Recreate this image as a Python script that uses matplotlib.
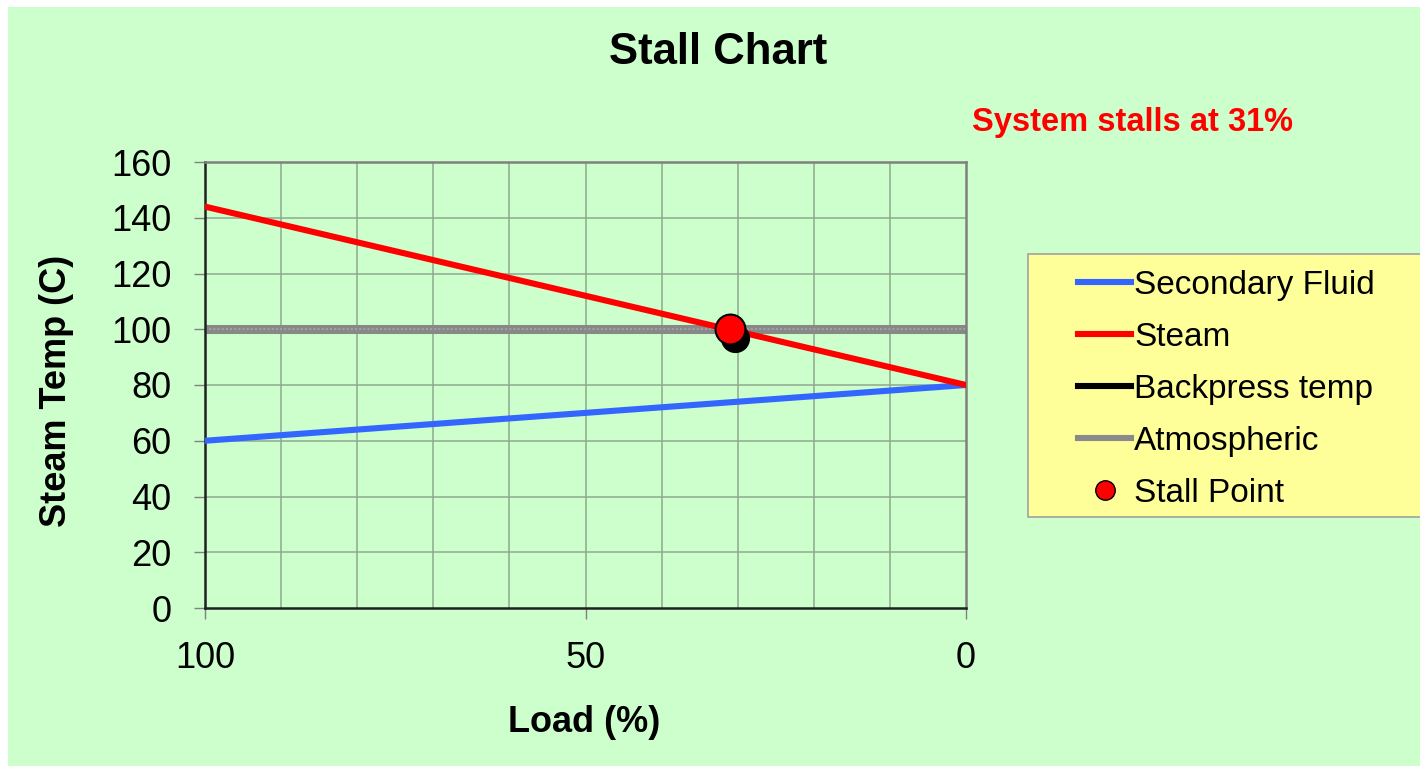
import matplotlib
matplotlib.use("Agg")
import matplotlib.pyplot as plt
from matplotlib.lines import Line2D
from matplotlib.patches import Rectangle

plt.rcParams['font.family'] = ['Liberation Sans', 'DejaVu Sans']

# Data
load = [100, 0]
secondary_fluid = [60, 80]
steam = [144, 80]
atmospheric = [100, 100]
backpress_x = [30.4]
backpress_y = [97.0]
stall_x = [31]
stall_y = [100]
x_ticks = [100, 50, 0]
y_ticks = [0, 20, 40, 60, 80, 100, 120, 140, 160]

GREEN = '#CCFFCC'
W, H = 1420, 766
fig = plt.figure(figsize=(14.2, 7.66), dpi=100)
fig.patch.set_facecolor('white')
fig.patches.append(Rectangle((8/W, 0), 1, 1 - 7/H, transform=fig.transFigure,
                             facecolor=GREEN, edgecolor='none', zorder=-10))
# legend box (extends past the right edge as in the reference)
fig.patches.append(Rectangle((1028/W, 1 - 517/H), (1440 - 1028)/W, (517 - 254)/H,
                             transform=fig.transFigure, facecolor='#FFFF99',
                             edgecolor='#a8a8a0', lw=1.3, zorder=-5))

ax = fig.add_axes([205/W, 1 - 608/H, (966 - 205)/W, (608 - 162)/H])
ax.set_facecolor(GREEN)
ax.set_xlim(100, 0)
ax.set_ylim(0, 160)

# grid
for gx in range(10, 100, 10):
    ax.axvline(gx, color='#8fa88f', lw=1.1, zorder=1)
for gy in y_ticks[1:-1]:
    ax.axhline(gy, color='#8fa88f', lw=1.1, zorder=1)

ax.plot(load, atmospheric, color='#888888', lw=6.5, solid_capstyle='butt', zorder=2)
ax.plot(load, atmospheric, color='#a0a0a0', lw=1.5, ls=(0, (1, 1)), zorder=2)
ax.plot(load, secondary_fluid, color='#3366FF', lw=4.4, zorder=3)
ax.plot(load, steam, color='#FF0000', lw=4.4, zorder=4)
ax.plot(backpress_x, backpress_y, 'o', color='black', ms=20, zorder=5, clip_on=False)
ax.plot(stall_x, stall_y, 'o', color='#FF0000', mec='black', mew=1.5, ms=21.5, zorder=6)

ax.set_xticks(x_ticks)
ax.set_yticks(y_ticks)
ax.tick_params(axis='both', labelsize=26, length=8, width=1, color='#808080', direction='out')
ax.tick_params(axis='x', pad=16)
ax.tick_params(axis='y', pad=16)

for s in ['left', 'bottom']:
    ax.spines[s].set_color('#202020')
    ax.spines[s].set_linewidth(1.8)
for s in ['top', 'right']:
    ax.spines[s].set_color('#808080')
    ax.spines[s].set_linewidth(1.8)

fig.text(718/W, 1 - 52/H, 'Stall Chart', ha='center', va='center',
         fontsize=31.5, fontweight='bold')
fig.text(1132/W, 1 - 122/H, 'System stalls at 31%', ha='center', va='center',
         fontsize=23.5, fontweight='bold', color='#FF0000')
fig.text(584/W, 1 - 722/H, 'Load (%)', ha='center', va='center',
         fontsize=26, fontweight='bold')
fig.text(57/W, 1 - 391/H, 'Steam Temp (C)', ha='center', va='center',
         fontsize=26, fontweight='bold', rotation=90)

handles = [
    Line2D([], [], color='#3366FF', lw=4.4),
    Line2D([], [], color='#FF0000', lw=4.4),
    Line2D([], [], color='black', lw=4.4),
    Line2D([], [], color='#8a8a8a', lw=4.4),
    Line2D([], [], color='#FF0000', marker='o', ls='none', mec='black', ms=14),
]
labels = ['Secondary Fluid', 'Steam', 'Backpress temp', 'Atmospheric', 'Stall Point']
leg = fig.legend(handles, labels, loc='upper left',
                 bbox_to_anchor=(1078/W, 1 - 270/H), fontsize=24,
                 frameon=False, handlelength=1.6, handletextpad=0.08,
                 labelspacing=0.63, borderpad=0, borderaxespad=0)

fig.savefig('out.png', dpi=100, facecolor=fig.get_facecolor())
